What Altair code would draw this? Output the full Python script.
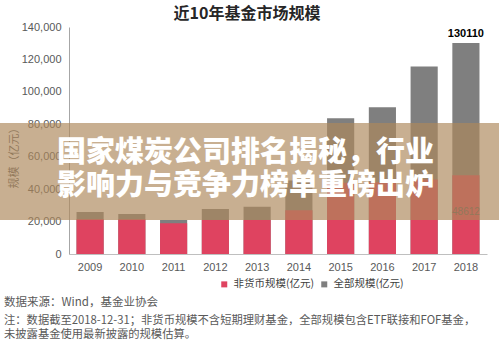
import altair as alt
import pandas as pd

years = ["2009", "2010", "2011", "2012", "2013", "2014", "2015", "2016", "2017", "2018"]
total_scale = [25900, 24600, 21000, 27700, 29100, 45400, 83700, 90500, 115600, 130110]
nonmoney_scale = [21500, 21500, 18900, 21000, 21000, 27000, 44000, 44300, 46000, 48612]
series_names = ["非货币规模(亿元)", "全部规模(亿元)"]
series_colors = ["#DF4360", "#7F7F7F"]
y_ticks = [0, 20000, 40000, 60000, 80000, 100000, 120000, 140000]

title_text = "近10年基金市场规模"
y_title = "规模（亿元）"
banner_lines = ["国家煤炭公司排名揭秘，行业", "影响力与竞争力榜单重磅出炉"]
note_lines = [
    "数据来源：Wind，基金业协会",
    "注：数据截至2018-12-31；非货币规模不含短期理财基金，全部规模包含ETF联接和FOF基金，",
    "未披露基金使用最新披露的规模估算。",
]
label_total = "130110"
label_nonmoney = "48612"

W, H = 418, 227
CJK = "Noto Sans CJK SC"
LAT = "Liberation Sans"

rows = []
for yr, t, n in zip(years, total_scale, nonmoney_scale):
    rows.append({"year": yr, "series": series_names[1], "value": t})
    rows.append({"year": yr, "series": series_names[0], "value": n})
df = pd.DataFrame(rows)

xscale = alt.Scale(domain=years, paddingInner=0.35, paddingOuter=0.18)
yscale = alt.Scale(domain=[0, 140000], nice=False)
cscale = alt.Scale(domain=series_names, range=series_colors)

x_axis = alt.Axis(title=None, labelAngle=0, ticks=False, domainColor="#BFBFBF",
                  labelPadding=7, labelFontSize=11, labelColor="#595959", labelFont=LAT)
y_axis = alt.Axis(title=y_title, values=y_ticks, format=",.0f", ticks=False, grid=False,
                  domainColor="#A6A6A6", labelPadding=8, labelFontSize=11,
                  labelColor="#595959", labelFont=LAT, labelOverlap=False, labelFlush=False,
                  titleFont=CJK, titleFontSize=11, titleFontWeight="normal",
                  titleColor="#595959", titleX=-55, titleY=128, titleAngle=270,
                  titleAlign="center", titleBaseline="middle")
x_enc = alt.X("year:O", scale=xscale, sort=years, axis=x_axis)
y_enc = alt.Y("value:Q", scale=yscale, axis=y_axis)
color_enc = alt.Color("series:N", scale=cscale,
                      legend=alt.Legend(title=None, orient="none", legendX=150, legendY=252,
                                        direction="horizontal", symbolType="square",
                                        symbolSize=36, symbolStrokeWidth=0, labelFont=CJK,
                                        labelFontSize=10.5, labelColor="#404040",
                                        columnPadding=4, labelOffset=4))

base = alt.Chart(df)
gray_bars = base.transform_filter(alt.datum.series == series_names[1]).mark_bar().encode(
    x=x_enc, y=y_enc, color=color_enc)
red_bars = base.transform_filter(alt.datum.series == series_names[0]).mark_bar().encode(
    x=x_enc, y=y_enc, color=color_enc)

lab_df = pd.DataFrame({"year": [years[-1], years[-1]],
                       "value": [total_scale[-1], nonmoney_scale[-1]],
                       "txt": [label_total, label_nonmoney]})
lab_total = alt.Chart(lab_df.iloc[[0]]).mark_text(
    font=LAT, fontSize=11, fontWeight="bold", color="#000000", dy=-9).encode(
    x=x_enc, y=y_enc, text="txt:N")
lab_nonmoney = alt.Chart(lab_df.iloc[[1]]).mark_text(
    font=LAT, fontSize=10, color="#595959", dy=37).encode(
    x=x_enc, y=y_enc, text="txt:N")

banner = alt.Chart(pd.DataFrame({"a": [0]})).mark_rect(
    color="#AD875B", opacity=0.67).encode(
    x=alt.value(-69), x2=alt.value(W + 12), y=alt.value(96), y2=alt.value(193))


def text_layer(txt, x, y, **kw):
    return alt.Chart(pd.DataFrame({"t": [txt]})).mark_text(**kw).encode(
        x=alt.value(x), y=alt.value(y), text="t:N")


title_layer = text_layer(title_text, 178, -13, font=CJK, fontSize=16, fontWeight="bold",
                         color="#262626", align="center", baseline="middle")
banner_l1 = text_layer(banner_lines[0], -12, 126, font=CJK, fontSize=29, fontWeight=900,
                       color="#FFFFFF", align="left", baseline="middle")
banner_l2 = text_layer(banner_lines[1], -12, 159, font=CJK, fontSize=29, fontWeight=900,
                       color="#FFFFFF", align="left", baseline="middle")
note1 = text_layer(note_lines[0], -65, 276, font=CJK, fontSize=11.5, color="#595959",
                   align="left", baseline="middle")
note2 = text_layer(note_lines[1], -65, 294, font=CJK, fontSize=11.3, color="#595959",
                   align="left", baseline="middle")
note3 = text_layer(note_lines[2], -65, 308, font=CJK, fontSize=11.3, color="#595959",
                   align="left", baseline="middle")

chart = alt.layer(
    gray_bars, red_bars, lab_total, lab_nonmoney, banner, banner_l1, banner_l2,
    title_layer, note1, note2, note3
).properties(
    width=W, height=H,
    padding={"left": 69, "top": 27, "right": 12, "bottom": 91},
    autosize=alt.AutoSizeParams(type="none"),
    background="#FFFFFF",
).configure_view(stroke=None)

chart.save("out.html", embed_options={"renderer": "svg", "actions": False})
